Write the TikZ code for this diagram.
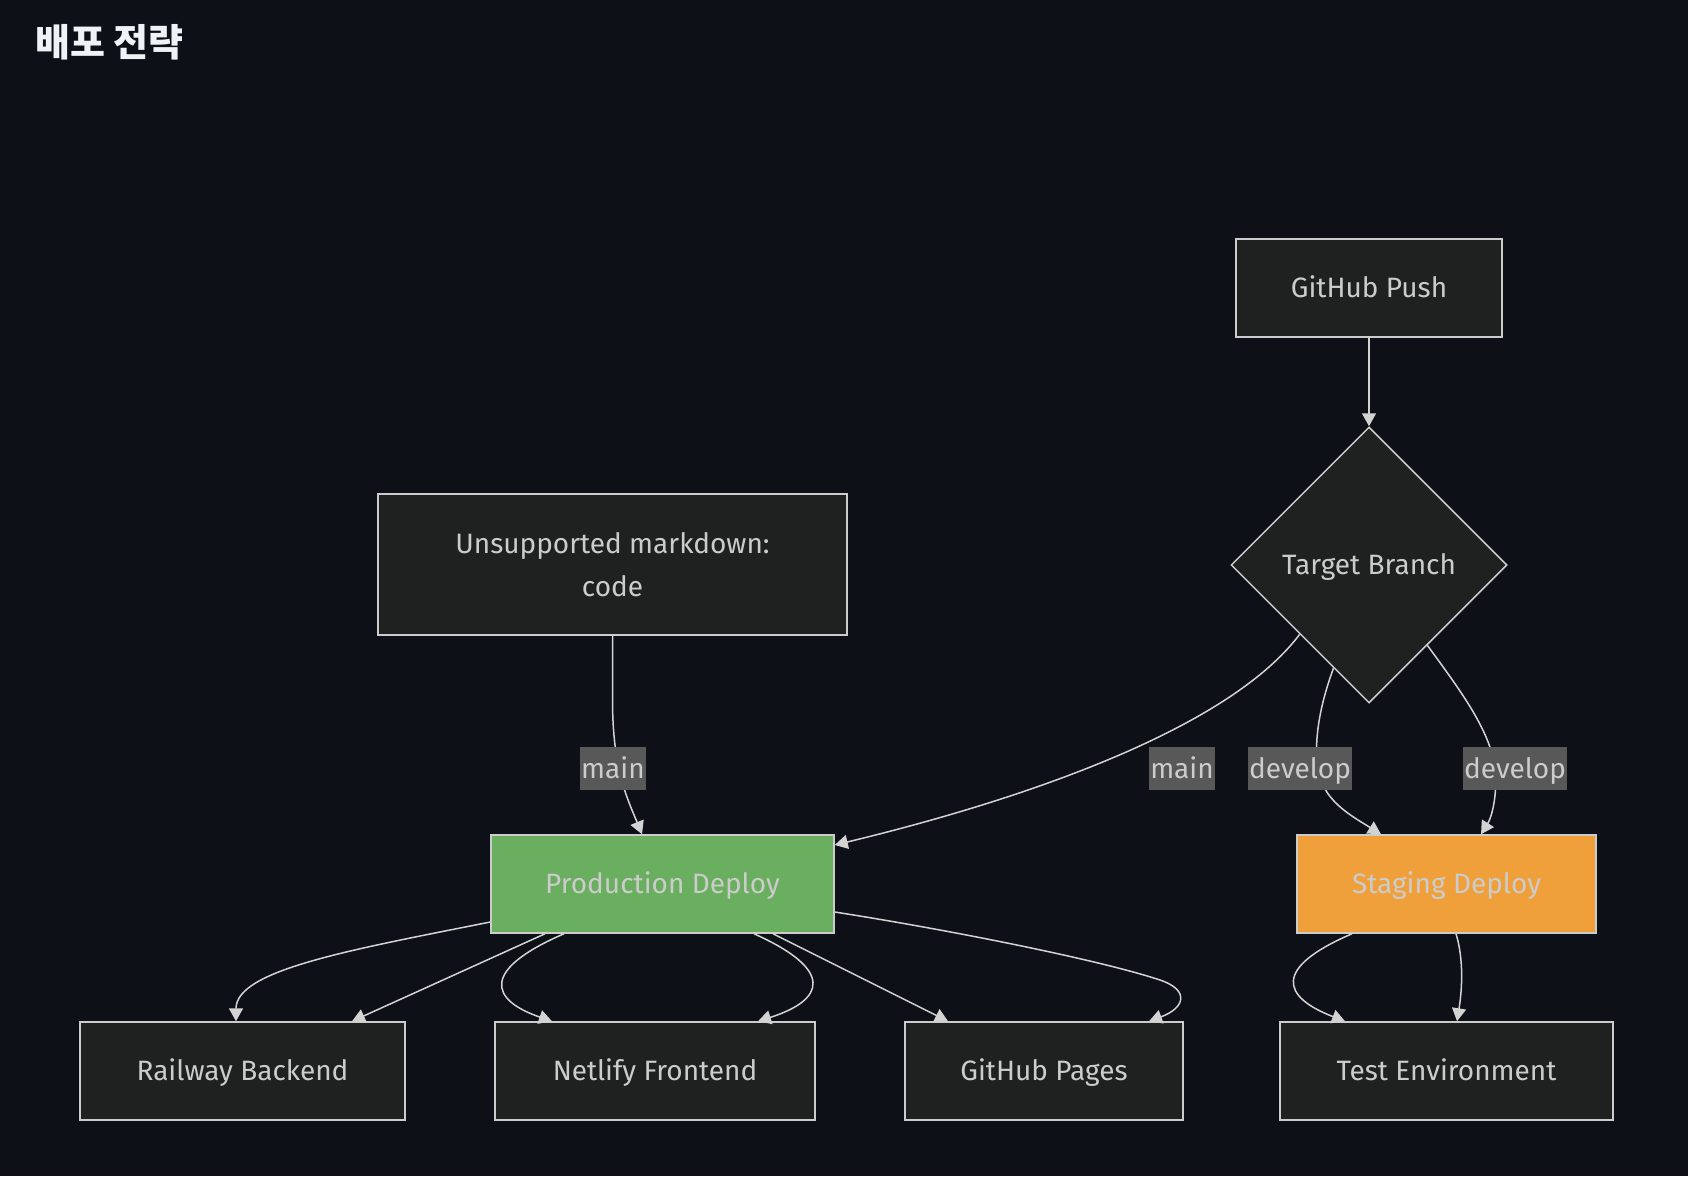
\documentclass[tikz,border=0pt]{standalone}
\usepackage{fontspec}
\setmainfont{Fira Sans}
\newfontfamily\krfont{Noto Sans CJK KR}
\usetikzlibrary{shapes.geometric,arrows.meta}
\definecolor{bg}{HTML}{0D1117}
\definecolor{nodefill}{HTML}{1F2020}
\definecolor{nodeline}{HTML}{CCCCCC}
\definecolor{txt}{HTML}{CCCCCC}
\definecolor{titletxt}{HTML}{F0F3F6}
\definecolor{prodfill}{HTML}{6AAE5F}
\definecolor{stagefill}{HTML}{F0A03B}
\definecolor{lblfill}{HTML}{585858}
\definecolor{edgecol}{HTML}{D3D3D3}
\begin{document}
\begin{tikzpicture}[x=1pt,y=-1pt,
  txtfont/.style={font=\fontsize{28}{43}\selectfont},
  box/.style={draw=nodeline, line width=1.5pt, fill=nodefill, inner sep=0pt,
    minimum height=98pt, text=txt, txtfont, align=center},
  sbox/.style={box, text height=25pt, text depth=6pt},
  decision/.style={diamond, draw=nodeline, line width=1.5pt, fill=nodefill,
    inner sep=0pt, minimum width=276pt, minimum height=276pt, text=txt, txtfont,
    text height=25pt, text depth=6pt},
  elabel/.style={fill=lblfill, text=txt, inner xsep=1pt, inner ysep=0pt,
    minimum height=43pt, txtfont, text height=25pt, text depth=6pt},
  link/.style={draw=edgecol, line width=1.5pt, -{Triangle[length=13pt,width=14pt]}}
]
\useasboundingbox (0,0) rectangle (1688,1176);
\fill[bg] (0,0) rectangle (1688,1176);

\node[anchor=base west, text=titletxt, inner sep=0pt,
  font=\krfont\bfseries\fontsize{38}{44}\selectfont] (title) at (35,56) {배포 전략};

\node[sbox, minimum width=266pt] (push) at (1369,288) {GitHub Push};
\node[decision] (target) at (1369,565) {Target Branch};
\node[box, minimum width=469pt, minimum height=141pt] (uns) at (612.5,564.5)
  {Unsupported markdown:\\code};
\node[sbox, fill=prodfill, minimum width=343pt] (prod) at (662.5,884) {Production Deploy};
\node[sbox, fill=stagefill, minimum width=299pt] (stage) at (1446.5,884) {Staging Deploy};
\node[sbox, minimum width=325pt] (rail) at (242.5,1071) {Railway Backend};
\node[sbox, minimum width=320pt] (netlify) at (655,1071) {Netlify Frontend};
\node[sbox, minimum width=278pt] (pages) at (1044,1071) {GitHub Pages};
\node[sbox, minimum width=333pt] (test) at (1446.5,1071) {Test Environment};

% edges
\draw[link] (push.south) -- (target.north);
\draw[link] (uns.south) -- (612.5,700) .. controls (612.5,770) and (628,800)
  .. ([xshift=-20.5pt]prod.north);
\draw[link] (target.south west) .. controls (1220,740) and (980,810)
  .. ([yshift=39pt]prod.east);
\draw[link] (target.251) .. controls (1318,710) and (1314,745) .. (1318,768)
  .. controls (1322,800) and (1350,815) .. ([xshift=-65.5pt]stage.north);
\draw[link] (target.306) .. controls (1460,690) and (1490,730) .. (1495,768)
  .. controls (1498,800) and (1490,820) .. ([xshift=34.5pt]stage.north);

\draw[link] ([yshift=-38pt]prod.west) .. controls (350,950) and (236,970)
  .. ([xshift=-6.5pt]rail.north);
\draw[link] ([xshift=-117.5pt]prod.south) -- ([xshift=109.5pt]rail.north);
\draw[link] ([xshift=-98.5pt]prod.south) .. controls (480,970) and (490,1000)
  .. ([xshift=-103pt]netlify.north);
\draw[link] ([xshift=91.5pt]prod.south) .. controls (835,970) and (825,1000)
  .. ([xshift=103pt]netlify.north);
\draw[link] ([xshift=110.5pt]prod.south) -- ([xshift=-96pt]pages.north);
\draw[link] ([yshift=-28pt]prod.east) .. controls (950,930) and (1100,960) .. (1160,980)
  .. controls (1190,990) and (1185,1008) .. ([xshift=105pt]pages.north);

\draw[link] ([xshift=-94.5pt]stage.south) .. controls (1272,968) and (1282,997)
  .. ([xshift=-101.5pt]test.north);
\draw[link] ([xshift=9.5pt]stage.south) .. controls (1464,960) and (1462,990)
  .. ([xshift=10.5pt]test.north);

% edge labels
\node[elabel] (lmain1) at (613,768.5) {main};
\node[elabel] (lmain2) at (1182,768.5) {main};
\node[elabel] (ldev1) at (1300,768.5) {develop};
\node[elabel] (ldev2) at (1515,768.5) {develop};
\end{tikzpicture}
\end{document}
